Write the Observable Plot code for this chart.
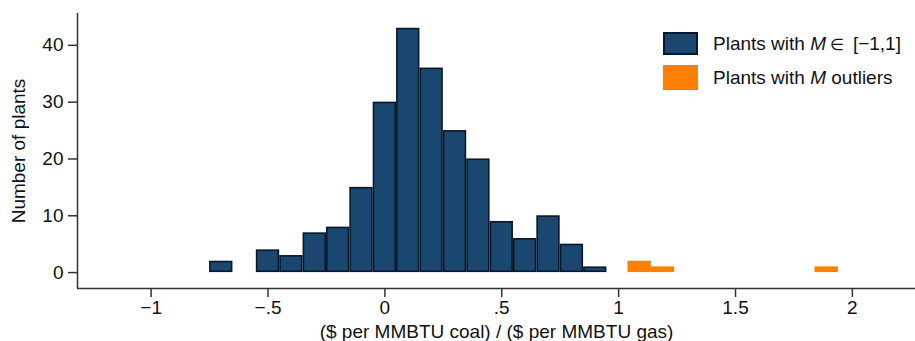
<!DOCTYPE html>
<html>
<head>
<meta charset="utf-8">
<script src="https://cdn.jsdelivr.net/npm/d3@7"></script>
<script src="https://cdn.jsdelivr.net/npm/@observablehq/plot@0.6"></script>
<style>
  html, body { margin: 0; padding: 0; background: #fff; }
  #wrap { position: relative; width: 915px; height: 341px; font-family: "Liberation Sans", Arial, sans-serif; }
  #wrap svg { display: block; }
  .leg { position: absolute; font-size: 19px; color: #111; }
  .sw { position: absolute; box-sizing: border-box; }
  .lt { position: absolute; white-space: nowrap; line-height: 1; }
</style>
</head>
<body>
<div id="wrap"></div>
<script>
// Histogram bins (centers, width 0.1) and counts for plants with M in [-1,1]
const binCenters = [-0.7, -0.5, -0.4, -0.3, -0.2, -0.1, 0, 0.1, 0.2, 0.3, 0.4, 0.5, 0.6, 0.7, 0.8, 0.9];
const counts     = [2, 4, 3, 7, 8, 15, 30, 43, 36, 25, 20, 9, 6, 10, 5, 1];
const binWidth = 0.1;

// Outlier bins
const outlierLo = [1.04, 1.14, 1.84];
const outlierHi = [1.14, 1.24, 1.94];
const outlierCounts = [2, 1, 1];

// Axis ticks
const xTicks = [-1, -0.5, 0, 0.5, 1, 1.5, 2];
const xTickLabels = ["\u22121", "\u2212.5", "0", ".5", "1", "1.5", "2"];
const yTicks = [0, 10, 20, 30, 40];

const xDomain = [-1.315, 2.27];
const yDomain = [-2.8, 45.6];

const mainBars = binCenters.map((c, i) => ({x1: c - binWidth / 2, x2: c + binWidth / 2, y: counts[i]}));
const outBars = outlierLo.map((lo, i) => ({x1: lo, x2: outlierHi[i], y: outlierCounts[i]}));

const axisColor = "#333";
const fs = 19;

const chart = Plot.plot({
  width: 915,
  height: 341,
  marginLeft: 77,
  marginRight: 0,
  marginTop: 13,
  marginBottom: 53,
  style: {fontFamily: "'Liberation Sans', Arial, sans-serif", fontSize: fs + "px", color: "#111", background: "#fff"},
  x: {domain: xDomain},
  y: {domain: yDomain},
  marks: [
    Plot.rect(mainBars, {x1: "x1", x2: "x2", y1: 0, y2: "y", fill: "#1a476f", stroke: "#08182a", strokeWidth: 1.6, inset: 0.8}),
    Plot.rect(outBars, {x1: "x1", x2: "x2", y1: 0, y2: "y", fill: "#ff7f00", inset: 0}),
    Plot.ruleX([xDomain[0]], {stroke: axisColor, strokeWidth: 1.5}),
    Plot.ruleY([yDomain[0]], {stroke: axisColor, strokeWidth: 1.5}),
    Plot.axisX({ticks: xTicks, tickFormat: (d) => xTickLabels[xTicks.indexOf(d)], tickSize: 9, tickPadding: 3, stroke: axisColor, strokeWidth: 1.5, fontSize: fs, label: null}),
    Plot.axisY({ticks: yTicks, tickSize: 9, tickPadding: 5, stroke: axisColor, strokeWidth: 1.5, fontSize: fs, label: null}),
    Plot.text(["($ per MMBTU coal) / ($ per MMBTU gas)"], {frameAnchor: "bottom", dy: 43, textAnchor: "middle", lineAnchor: "middle", fontSize: fs, fill: "#111"}),
    Plot.text(["Number of plants"], {frameAnchor: "left", dx: -59, rotate: -90, textAnchor: "middle", lineAnchor: "middle", fontSize: fs, fill: "#111"})
  ]
});

const wrap = document.getElementById("wrap");
wrap.appendChild(chart);

// Legend
const legendItems = [
  {html: 'Plants with <i>M</i>\u2009<span style="font-size:16px">\u2208</span>\u2009 [\u22121,1]', fill: "#1a476f", border: "2px solid #08182a", top: 32, h: 23},
  {html: 'Plants with <i>M</i> outliers', fill: "#ff7f00", border: "none", top: 65, h: 25}
];
legendItems.forEach((it) => {
  const sw = document.createElement("div");
  sw.className = "sw";
  sw.style.left = "663px"; sw.style.top = it.top + "px";
  sw.style.width = "35px"; sw.style.height = it.h + "px";
  sw.style.background = it.fill; sw.style.border = it.border;
  wrap.appendChild(sw);
  const t = document.createElement("div");
  t.className = "leg lt";
  t.innerHTML = it.html;
  t.style.left = "713px";
  t.style.top = (it.top + it.h / 2 - 10) + "px";
  wrap.appendChild(t);
});
</script>
</body>
</html>
